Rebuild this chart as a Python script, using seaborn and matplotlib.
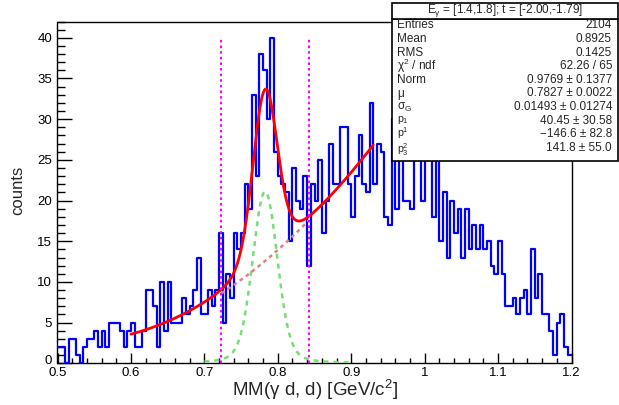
import numpy as np
import pandas as pd
import matplotlib
matplotlib.use("Agg")
import matplotlib.pyplot as plt
import matplotlib.transforms as mtransforms
import seaborn as sns
from matplotlib.patches import Rectangle
from matplotlib.ticker import FixedLocator, MultipleLocator

# ---------------- data ----------------
x_lo, x_hi, n_bins = 0.5, 1.2, 140
counts = [2, 2, 0, 3, 3, 1, 0, 2, 3, 3,
          4, 2, 4, 2, 5, 5, 5, 4, 2, 4,
          5, 2, 2, 4, 9, 9, 7, 2, 10, 4,
          10, 5, 5, 5, 8, 6, 7, 9, 13, 6,
          6, 9, 7, 9, 16, 5, 11, 8, 16, 14,
          16, 22, 19, 33, 23, 38, 36, 30, 40, 26,
          23, 22, 21, 15, 24, 20, 19, 23, 12, 22,
          20, 25, 16, 20, 27, 22, 22, 29, 29, 22,
          18, 23, 28, 22, 21, 32, 22, 27, 26, 18,
          17, 30, 19, 33, 20, 20, 19, 28, 35, 20,
          31, 27, 18, 29, 15, 21, 13, 20, 16, 19,
          13, 19, 14, 17, 14, 17, 14, 15, 12, 11,
          15, 11, 7, 7, 8, 6, 8, 9, 6, 14,
          8, 11, 6, 6, 4, 1, 5, 6, 2, 1]

# fit parameters (from stats box)
norm, mu, sigma_g = 0.9769, 0.7827, 0.01493
p1, p2, p3 = 40.45, -146.6, 141.8
omega_width = 0.00849          # fixed Lorentzian width of the Voigt
fit_range = (0.6, 0.93)
sig_range = (0.7, 0.9)
cut_lines = [mu - 4 * sigma_g, mu + 4 * sigma_g]

x_tick_vals = [0.5, 0.6, 0.7, 0.8, 0.9, 1.0, 1.1, 1.2]
x_tick_labels = ["0.5", "0.6", "0.7", "0.8", "0.9", "1", "1.1", "1.2"]
y_tick_vals = [0, 5, 10, 15, 20, 25, 30, 35, 40]

stats_title = "E$_{\\gamma}$ = [1.4,1.8]; t = [-2.00,-1.79]"
stats_names = ["Entries", "Mean", "RMS", "$\\chi^{2}$ / ndf", "Norm", "\u03bc",
               "$\\sigma_{G}$", "p$_{1}$", "p$^{1}$", "p$^{2}_{3}$"]
stats_values = ["2104", "0.8925", "0.1425", "62.26 / 65",
                "0.9769 \u00b1 0.1377", "0.7827 \u00b1 0.0022",
                "0.01493 \u00b1 0.01274", "40.45 \u00b1 30.58",
                "\u2212146.6 \u00b1 82.8", "141.8 \u00b1 55.0"]

# ---------------- style ----------------
sns.set_style("ticks")
plt.rcParams["font.family"] = ["Liberation Sans", "DejaVu Sans"]
plt.rcParams["mathtext.fontset"] = "custom"
plt.rcParams["mathtext.rm"] = "Liberation Sans"
plt.rcParams["mathtext.it"] = "Liberation Sans:italic"
plt.rcParams["mathtext.default"] = "regular"

W, H = 619, 405
fig = plt.figure(figsize=(W / 100, H / 100), dpi=100)
fig.patch.set_facecolor("white")

L, R, T, B = 57.5, 571.5, 21.5, 363.3
ax = fig.add_axes([L / W, 1 - B / H, (R - L) / W, (B - T) / H])
ax.set_facecolor("white")

edges = np.linspace(x_lo, x_hi, n_bins + 1)
centers = 0.5 * (edges[:-1] + edges[1:])
df = pd.DataFrame({"mm": centers, "n": np.array(counts, dtype=float)})
sns.histplot(data=df, x="mm", weights="n", bins=list(edges), element="step",
             fill=False, color="#0000ff", linewidth=1.6, ax=ax, zorder=3)


def voigt(x, m, s, g):
    t = np.linspace(-0.25, 0.25, 10001)
    dt = t[1] - t[0]
    gauss = np.exp(-0.5 * (t / s) ** 2) / (s * np.sqrt(2 * np.pi))
    hw = g / 2
    lor = (hw / np.pi) / ((x[:, None] - m - t[None, :]) ** 2 + hw ** 2)
    return (lor * gauss[None, :]).sum(axis=1) * dt


def bkg(x):
    return p1 + p2 * x + p3 * x ** 2


xs = np.linspace(*fit_range, 500)
total = norm * voigt(xs, mu, sigma_g, omega_width) + bkg(xs)
xg = np.linspace(*sig_range, 300)
sig = norm * voigt(xg, mu, sigma_g, omega_width)
xb = np.linspace(*cut_lines, 200)

sns.lineplot(x=xg, y=sig, ax=ax, color="#77dd77", linewidth=1.8,
             linestyle=(0, (2.0, 2.0)), zorder=4)
sns.lineplot(x=xb, y=bkg(xb), ax=ax, color="#e08080", linewidth=1.8,
             linestyle=(0, (1.5, 1.5)), zorder=4)
sns.lineplot(x=xs, y=total, ax=ax, color="#ff0000", linewidth=2.0, zorder=5)

for xc in cut_lines:
    ax.plot([xc, xc], [0, 40], color="#ff00ff", linewidth=1.5,
            linestyle=(0, (1.2, 1.5)), zorder=6)

ax.set_xlim(x_lo, x_hi)
ax.set_ylim(0, 42)

ax.xaxis.set_major_locator(FixedLocator(x_tick_vals))
ax.set_xticklabels(x_tick_labels)
ax.xaxis.set_minor_locator(MultipleLocator(0.02))
ax.yaxis.set_major_locator(FixedLocator(y_tick_vals))
ax.set_yticklabels([str(v) for v in y_tick_vals])
ax.yaxis.set_minor_locator(MultipleLocator(1))

ax.tick_params(axis="both", which="both", direction="in", colors="black",
               width=1.0, labelsize=9.5)
ax.tick_params(axis="x", which="major", length=7.5, pad=3)
ax.tick_params(axis="x", which="minor", length=3.8)
ax.tick_params(axis="y", which="major", length=11, pad=4)
ax.tick_params(axis="y", which="minor", length=5.5)

# nudge the "0" y label up slightly so it does not collide with "0.5"
ylab0 = ax.get_yticklabels()[0]
ylab0.set_transform(ylab0.get_transform() +
                    mtransforms.ScaledTranslation(0, 3 / 72, fig.dpi_scale_trans))

for s in ax.spines.values():
    s.set_visible(True)
    s.set_color("black")
    s.set_linewidth(1.0)

ax.set_xlabel("MM(\u03b3 d, d) [GeV/c$^{2}$]", fontsize=13.5)
ax.set_ylabel("counts", fontsize=12)
ax.xaxis.set_label_coords(0.5, (B - 390) / (B - T))
ax.xaxis.label.set_va("center")
ax.yaxis.set_label_coords((18 - L) / (R - L), (B - 190) / (B - T))
ax.yaxis.label.set_va("center")

# ---------------- stats box ----------------
def fx(px):
    return px / W


def fy(py):
    return 1 - py / H


bx0, bx1 = 391.5, 617.5
fig.add_artist(Rectangle((fx(bx0), fy(161)), fx(bx1) - fx(bx0), fy(18.5) - fy(161),
                         transform=fig.transFigure, facecolor="white",
                         edgecolor="black", linewidth=1.2, zorder=10))
fig.add_artist(Rectangle((fx(bx0), fy(18.5)), fx(bx1) - fx(bx0), fy(3) - fy(18.5),
                         transform=fig.transFigure, facecolor="white",
                         edgecolor="black", linewidth=1.2, zorder=10))
fig.text(fx(504.5), fy(10.5), stats_title, ha="center", va="center",
         fontsize=8.5, zorder=11)
name_shift = [0, 0, 0, 0, 0, 0, 0, -0.5, -1.0, 1.5]
for i, (nm, vl) in enumerate(zip(stats_names, stats_values)):
    yy = 25.5 + 13.6 * i
    fs = 7.6 if i >= 7 else 8.5
    fig.text(fx(397), fy(yy + name_shift[i]), nm, ha="left", va="center",
             fontsize=fs, zorder=11)
    fig.text(fx(612), fy(yy), vl, ha="right", va="center", fontsize=8.5, zorder=11)

fig.savefig("out.png", dpi=100, facecolor="white")
